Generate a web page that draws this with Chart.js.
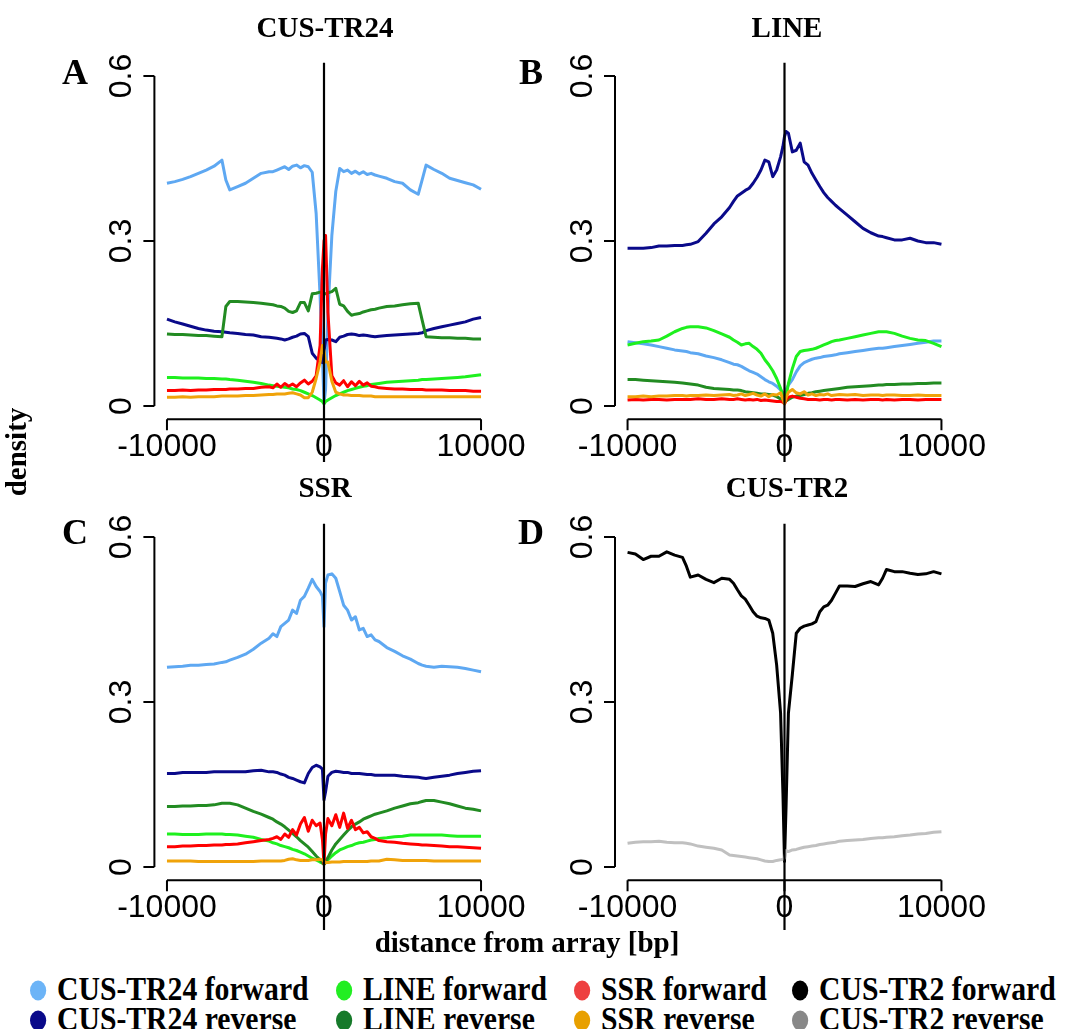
<!DOCTYPE html>
<html>
<head>
<meta charset="utf-8">
<title>density around arrays</title>
<script src="https://cdn.jsdelivr.net/npm/chart.js@4.4.1/dist/chart.umd.min.js"></script>
<style>
  html, body { margin: 0; padding: 0; background: #fff; }
  #fig { position: relative; width: 1067px; height: 1029px; overflow: hidden; background: #fff;
         font-family: "Liberation Serif", "Times New Roman", serif; font-weight: bold; color: #000; }
  #fig canvas { position: absolute; }
  .lbl { position: absolute; white-space: nowrap; transform: translate(-50%, -50%); line-height: 1; }
  .title { font-size: 29px; }
  .letter { font-size: 36px; }
  .axlab { font-size: 29px; }
  .legend-item { position: absolute; white-space: nowrap; font-size: 33px; line-height: 1;
                 transform-origin: 0 50%; transform: translateY(-50%) scaleX(0.9); }
  .dot { display: inline-block; width: 18px; height: 20px; border-radius: 50%; margin-right: 12px; vertical-align: -1px; }
</style>
</head>
<body>
<div id="fig">
  <canvas id="cA" width="533" height="462" style="left:0;top:0"></canvas>
  <canvas id="cB" width="534" height="462" style="left:533px;top:0"></canvas>
  <canvas id="cC" width="533" height="468" style="left:0;top:462px"></canvas>
  <canvas id="cD" width="534" height="468" style="left:533px;top:462px"></canvas>

  <div class="lbl title" style="left:325px;top:27px">CUS-TR24</div>
  <div class="lbl title" style="left:787px;top:27px">LINE</div>
  <div class="lbl title" style="left:325px;top:487px">SSR</div>
  <div class="lbl title" style="left:787px;top:487px">CUS-TR2</div>

  <div class="lbl letter" style="left:75px;top:72px">A</div>
  <div class="lbl letter" style="left:531px;top:72px">B</div>
  <div class="lbl letter" style="left:75px;top:532px">C</div>
  <div class="lbl letter" style="left:531px;top:532px">D</div>

  <div class="lbl axlab" style="left:16px;top:452px;transform:translate(-50%,-50%) rotate(-90deg)">density</div>
  <div class="lbl axlab" style="left:527px;top:942px">distance from array [bp]</div>
  <div id="legend"></div>
</div>

<script>
// distance from array (bp), shared by every series
const distances = [-10000,-9500,-9000,-8500,-8000,-7500,-7000,-6500,-6250,-6000,-5500,-5000,-4500,-4000,-3500,
  -3250,-3000,-2750,-2500,-2250,-2000,-1750,-1500,-1250,-1000,-750,-500,-250,-100,0,
  100,250,500,750,1000,1250,1500,1750,2000,2250,2500,2750,3000,3250,3500,
  4000,4500,5000,5500,6000,6250,6500,7000,7500,8000,8500,9000,9500,10000];

const xTicks = [-10000, 0, 10000];
const xTickLabels = ['-10000', '0', '10000'];
const yTicks = [0, 0.3, 0.6];
const yTickLabels = ['0', '0.3', '0.6'];

const seriesNames = ['CUS-TR24 forward', 'CUS-TR24 reverse', 'LINE forward', 'LINE reverse',
  'SSR forward', 'SSR reverse', 'CUS-TR2 forward', 'CUS-TR2 reverse'];
const lineColors = ['#5ea8f2', '#0a0a8a', '#1ef01e', '#228b22', '#ff0000', '#f0a30a', '#000000', '#c0c0c0'];
const legendColors = ['#6cb4f7', '#0a0a8a', '#22ee22', '#167a2a', '#ee4040', '#e8a000', '#000000', '#888888'];

// A: CUS-TR24
const aTr24Fwd = [0.405,0.408,0.412,0.417,0.423,0.429,0.436,0.447,0.411,0.393,
  0.399,0.405,0.414,0.423,0.426,0.426,0.429,0.432,0.435,0.430,
  0.436,0.438,0.433,0.437,0.435,0.425,0.350,0.200,0.090,0.005,
  0.030,0.170,0.310,0.390,0.432,0.426,0.429,0.423,0.427,0.422,
  0.426,0.421,0.423,0.420,0.418,0.414,0.408,0.405,0.393,0.385,
  0.411,0.438,0.430,0.423,0.414,0.410,0.406,0.402,0.394];
const aTr24Rev = [0.158,0.153,0.149,0.145,0.141,0.138,0.136,0.135,0.134,0.133,
  0.132,0.130,0.129,0.126,0.125,0.124,0.123,0.122,0.120,0.122,
  0.125,0.127,0.131,0.132,0.126,0.096,0.087,0.082,0.079,0.100,
  0.120,0.121,0.120,0.117,0.125,0.127,0.130,0.131,0.130,0.128,
  0.129,0.128,0.127,0.126,0.127,0.128,0.129,0.130,0.131,0.132,
  0.133,0.137,0.141,0.144,0.147,0.150,0.153,0.158,0.161];
const aLineFwd = [0.052,0.052,0.051,0.051,0.051,0.050,0.050,0.049,0.049,0.048,
  0.047,0.045,0.043,0.041,0.038,0.037,0.036,0.035,0.034,0.033,
  0.031,0.030,0.028,0.025,0.022,0.019,0.015,0.011,0.008,0.004,
  0.008,0.011,0.015,0.019,0.022,0.025,0.028,0.030,0.032,0.034,
  0.036,0.037,0.039,0.040,0.041,0.043,0.044,0.045,0.046,0.047,
  0.048,0.048,0.049,0.050,0.051,0.052,0.053,0.055,0.057];
const aLineRev = [0.131,0.130,0.130,0.129,0.128,0.128,0.127,0.126,0.181,0.190,
  0.190,0.189,0.188,0.187,0.185,0.184,0.182,0.181,0.178,0.172,
  0.170,0.173,0.188,0.188,0.173,0.204,0.205,0.207,0.206,0.204,
  0.204,0.206,0.208,0.214,0.185,0.182,0.172,0.165,0.167,0.168,
  0.171,0.173,0.175,0.176,0.178,0.181,0.182,0.184,0.186,0.187,
  0.156,0.126,0.125,0.124,0.124,0.123,0.123,0.122,0.122];
const aSsrFwd = [0.028,0.028,0.029,0.028,0.029,0.029,0.030,0.030,0.030,0.031,
  0.031,0.032,0.032,0.034,0.035,0.033,0.040,0.034,0.041,0.036,
  0.040,0.035,0.042,0.047,0.040,0.045,0.055,0.110,0.250,0.300,
  0.310,0.170,0.055,0.042,0.038,0.046,0.035,0.044,0.037,0.045,
  0.038,0.042,0.036,0.035,0.033,0.032,0.031,0.031,0.030,0.030,
  0.030,0.029,0.029,0.029,0.028,0.028,0.028,0.027,0.027];
const aSsrRev = [0.016,0.016,0.017,0.016,0.017,0.017,0.017,0.018,0.018,0.018,
  0.018,0.019,0.019,0.020,0.021,0.021,0.022,0.022,0.022,0.023,
  0.024,0.022,0.020,0.015,0.015,0.025,0.050,0.080,0.110,0.100,
  0.080,0.080,0.045,0.025,0.022,0.020,0.020,0.019,0.019,0.019,
  0.018,0.018,0.018,0.017,0.017,0.017,0.017,0.017,0.017,0.017,
  0.017,0.017,0.017,0.017,0.017,0.017,0.017,0.017,0.017];

// B: LINE
const bTr24Fwd = [0.117,0.115,0.113,0.111,0.108,0.105,0.102,0.100,0.099,0.097,
  0.095,0.091,0.088,0.084,0.079,0.076,0.075,0.072,0.068,0.064,
  0.061,0.058,0.053,0.048,0.044,0.041,0.036,0.029,0.024,0.020,
  0.030,0.038,0.048,0.062,0.073,0.079,0.082,0.085,0.087,0.088,
  0.090,0.091,0.092,0.093,0.095,0.097,0.099,0.101,0.103,0.105,
  0.105,0.106,0.108,0.110,0.112,0.114,0.116,0.118,0.118];
const bTr24Rev = [0.287,0.287,0.287,0.288,0.291,0.291,0.292,0.292,0.293,0.294,
  0.299,0.314,0.331,0.344,0.361,0.372,0.382,0.387,0.392,0.396,
  0.405,0.416,0.429,0.447,0.444,0.417,0.429,0.453,0.472,0.490,
  0.499,0.496,0.462,0.465,0.478,0.444,0.438,0.423,0.411,0.399,
  0.388,0.379,0.372,0.365,0.359,0.347,0.335,0.323,0.315,0.309,
  0.308,0.306,0.302,0.302,0.305,0.300,0.297,0.297,0.294];
const bLineFwd = [0.111,0.114,0.117,0.118,0.120,0.127,0.135,0.141,0.143,0.144,
  0.144,0.142,0.137,0.131,0.125,0.120,0.116,0.111,0.113,0.114,
  0.108,0.103,0.096,0.084,0.075,0.064,0.050,0.032,0.020,0.008,
  0.017,0.041,0.068,0.090,0.099,0.101,0.102,0.103,0.105,0.108,
  0.111,0.114,0.117,0.119,0.120,0.123,0.126,0.129,0.132,0.135,
  0.135,0.135,0.132,0.127,0.123,0.120,0.119,0.114,0.108];
const bLineRev = [0.048,0.048,0.047,0.046,0.045,0.044,0.043,0.042,0.041,0.040,
  0.038,0.034,0.032,0.031,0.030,0.029,0.029,0.028,0.026,0.025,
  0.024,0.023,0.022,0.022,0.021,0.020,0.017,0.013,0.010,0.006,
  0.009,0.012,0.016,0.018,0.019,0.021,0.023,0.024,0.026,0.027,
  0.028,0.029,0.030,0.031,0.032,0.034,0.035,0.036,0.037,0.038,
  0.038,0.039,0.039,0.040,0.040,0.041,0.041,0.042,0.042];
const bSsrFwd = [0.011,0.012,0.011,0.012,0.012,0.011,0.012,0.012,0.012,0.012,
  0.013,0.012,0.012,0.013,0.012,0.012,0.013,0.012,0.011,0.012,
  0.011,0.012,0.010,0.011,0.010,0.009,0.008,0.008,0.007,0.004,
  0.010,0.016,0.018,0.016,0.014,0.013,0.012,0.012,0.012,0.011,
  0.012,0.012,0.011,0.012,0.012,0.011,0.012,0.011,0.012,0.012,
  0.011,0.012,0.011,0.012,0.012,0.011,0.012,0.012,0.012];
const bSsrRev = [0.017,0.017,0.018,0.017,0.018,0.018,0.019,0.019,0.018,0.019,
  0.019,0.020,0.019,0.020,0.021,0.019,0.020,0.022,0.019,0.021,
  0.023,0.020,0.018,0.022,0.017,0.021,0.020,0.024,0.012,0.004,
  0.015,0.025,0.030,0.024,0.022,0.026,0.020,0.022,0.019,0.021,
  0.020,0.022,0.019,0.020,0.021,0.020,0.021,0.019,0.020,0.020,
  0.019,0.020,0.020,0.019,0.019,0.020,0.019,0.019,0.019];

// C: SSR
const cTr24Fwd = [0.363,0.364,0.365,0.367,0.367,0.368,0.369,0.372,0.373,0.376,
  0.381,0.387,0.396,0.407,0.416,0.424,0.419,0.437,0.443,0.449,
  0.467,0.461,0.485,0.492,0.507,0.523,0.510,0.501,0.492,0.437,
  0.516,0.531,0.533,0.525,0.501,0.476,0.467,0.449,0.455,0.431,
  0.434,0.419,0.422,0.413,0.410,0.399,0.392,0.384,0.378,0.370,
  0.367,0.365,0.363,0.365,0.364,0.363,0.361,0.358,0.355];
const cTr24Rev = [0.170,0.170,0.172,0.172,0.172,0.172,0.173,0.173,0.173,0.173,
  0.173,0.173,0.175,0.176,0.173,0.173,0.172,0.169,0.167,0.163,
  0.161,0.158,0.155,0.153,0.170,0.181,0.185,0.182,0.178,0.122,
  0.137,0.165,0.172,0.174,0.173,0.172,0.172,0.170,0.170,0.170,
  0.169,0.168,0.168,0.167,0.167,0.167,0.167,0.165,0.164,0.163,
  0.162,0.161,0.163,0.165,0.167,0.170,0.172,0.174,0.175];
const cLineFwd = [0.060,0.060,0.059,0.059,0.059,0.060,0.060,0.060,0.059,0.059,
  0.058,0.056,0.054,0.050,0.047,0.044,0.042,0.039,0.037,0.035,
  0.032,0.030,0.027,0.024,0.020,0.016,0.013,0.009,0.007,0.005,
  0.008,0.013,0.020,0.026,0.031,0.034,0.037,0.039,0.042,0.044,
  0.045,0.047,0.049,0.050,0.052,0.053,0.055,0.056,0.058,0.058,
  0.058,0.058,0.058,0.058,0.057,0.056,0.056,0.056,0.056];
const cLineRev = [0.110,0.110,0.111,0.111,0.112,0.112,0.113,0.116,0.116,0.116,
  0.113,0.107,0.101,0.096,0.090,0.087,0.082,0.078,0.073,0.067,
  0.061,0.055,0.048,0.042,0.036,0.028,0.020,0.013,0.008,0.005,
  0.010,0.017,0.031,0.042,0.050,0.058,0.066,0.073,0.078,0.082,
  0.087,0.090,0.093,0.096,0.098,0.102,0.107,0.111,0.115,0.117,
  0.119,0.121,0.121,0.118,0.115,0.111,0.107,0.105,0.102];
const cSsrFwd = [0.037,0.037,0.038,0.038,0.039,0.039,0.040,0.040,0.041,0.041,
  0.042,0.044,0.046,0.048,0.050,0.052,0.055,0.050,0.060,0.054,
  0.068,0.058,0.078,0.090,0.065,0.085,0.075,0.080,0.050,0.005,
  0.060,0.088,0.075,0.095,0.072,0.098,0.070,0.085,0.068,0.072,
  0.062,0.064,0.055,0.052,0.048,0.046,0.045,0.043,0.042,0.041,
  0.040,0.040,0.039,0.038,0.037,0.037,0.036,0.035,0.034];
const cSsrRev = [0.011,0.011,0.011,0.011,0.010,0.010,0.010,0.010,0.010,0.010,
  0.010,0.010,0.010,0.011,0.011,0.011,0.011,0.011,0.012,0.014,
  0.015,0.013,0.012,0.012,0.012,0.013,0.013,0.014,0.013,0.010,
  0.008,0.008,0.009,0.009,0.009,0.010,0.010,0.010,0.010,0.010,
  0.010,0.010,0.011,0.011,0.011,0.014,0.013,0.012,0.012,0.012,
  0.012,0.012,0.011,0.011,0.011,0.011,0.011,0.011,0.011];

// D: CUS-TR2
const dTr2Fwd = [0.572,0.569,0.559,0.565,0.565,0.573,0.567,0.563,0.547,0.527,
  0.531,0.523,0.517,0.525,0.523,0.516,0.504,0.493,0.487,0.476,
  0.464,0.456,0.453,0.452,0.449,0.425,0.367,0.280,0.134,0.010,
  0.110,0.280,0.350,0.425,0.434,0.438,0.440,0.442,0.446,0.464,
  0.473,0.476,0.485,0.498,0.511,0.511,0.510,0.515,0.519,0.513,
  0.525,0.541,0.537,0.537,0.534,0.532,0.533,0.537,0.533];
const dTr2Rev = [0.043,0.045,0.046,0.046,0.047,0.045,0.044,0.044,0.043,0.042,
  0.038,0.036,0.034,0.031,0.022,0.021,0.020,0.019,0.018,0.017,
  0.016,0.015,0.013,0.011,0.010,0.010,0.012,0.013,0.014,0.016,
  0.030,0.028,0.031,0.032,0.034,0.036,0.037,0.038,0.039,0.041,
  0.042,0.043,0.044,0.045,0.047,0.048,0.049,0.050,0.052,0.053,
  0.053,0.054,0.055,0.057,0.058,0.060,0.061,0.063,0.064];

// R-style axis range: 4% beyond the data range on each side
const xPad = (xTicks[2] - xTicks[0]) * 0.04;
const yPad = (yTicks[2] - yTicks[0]) * 0.04;

// detached R-like axes plus the vertical line at 0
const rAxes = {
  id: 'rAxes',
  beforeDatasetsDraw(chart) {
    const { ctx, chartArea: ca, scales: { x, y } } = chart;
    ctx.save();
    ctx.strokeStyle = '#000';
    ctx.fillStyle = '#000';
    ctx.lineWidth = 2;
    ctx.lineCap = 'butt';
    ctx.beginPath();
    ctx.moveTo(ca.left, y.getPixelForValue(yTicks[0]));
    ctx.lineTo(ca.left, y.getPixelForValue(yTicks[yTicks.length - 1]));
    yTicks.forEach(v => {
      const py = y.getPixelForValue(v);
      ctx.moveTo(ca.left, py);
      ctx.lineTo(ca.left - 11, py);
    });
    ctx.moveTo(x.getPixelForValue(xTicks[0]), ca.bottom);
    ctx.lineTo(x.getPixelForValue(xTicks[xTicks.length - 1]), ca.bottom);
    xTicks.forEach(v => {
      const px = x.getPixelForValue(v);
      ctx.moveTo(px, ca.bottom);
      ctx.lineTo(px, ca.bottom + 11);
    });
    ctx.stroke();

    ctx.font = '32px "Liberation Sans", Arial, sans-serif';
    ctx.textAlign = 'center';
    ctx.textBaseline = 'alphabetic';
    xTicks.forEach((v, i) => {
      ctx.fillText(xTickLabels[i], x.getPixelForValue(v), ca.bottom + 37);
    });
    yTicks.forEach((v, i) => {
      ctx.save();
      ctx.translate(ca.left - 23, y.getPixelForValue(v));
      ctx.rotate(-Math.PI / 2);
      ctx.fillText(yTickLabels[i], 0, 0);
      ctx.restore();
    });
    ctx.restore();
  },
  afterDatasetsDraw(chart) {
    const { ctx, chartArea: ca, scales: { x } } = chart;
    const px = x.getPixelForValue(0);
    ctx.save();
    ctx.strokeStyle = '#000';
    ctx.lineWidth = 2.2;
    ctx.beginPath();
    ctx.moveTo(px, ca.top);
    ctx.lineTo(px, chart.height);
    ctx.stroke();
    ctx.restore();
  }
};

function makePanel(id, padding, series) {
  return new Chart(document.getElementById(id), {
    type: 'line',
    data: {
      datasets: series.map((s, i) => ({
        label: seriesNames[s.k],
        data: distances.map((d, j) => ({ x: d, y: s.values[j] })),
        borderColor: lineColors[s.k],
        borderWidth: 3,
        borderJoinStyle: 'round',
        pointRadius: 0,
        fill: false,
        tension: 0,
        order: series.length - i
      }))
    },
    options: {
      responsive: false,
      animation: false,
      devicePixelRatio: 1,
      events: [],
      layout: { padding },
      scales: {
        x: { type: 'linear', min: xTicks[0] - xPad, max: xTicks[2] + xPad, display: false },
        y: { type: 'linear', min: yTicks[0] - yPad, max: yTicks[2] + yPad, display: false }
      },
      plugins: { legend: { display: false }, tooltip: { enabled: false } }
    },
    plugins: [rAxes]
  });
}

const topPad = { left: 154.4, right: 39.4, top: 62.8, bottom: 42.8 };
const topPadR = { left: 82, right: 113, top: 62.8, bottom: 42.8 };
const botPad = { left: 154.4, right: 39.4, top: 61.8, bottom: 49.8 };
const botPadR = { left: 82, right: 113, top: 61.8, bottom: 49.8 };

makePanel('cA', topPad, [
  { k: 0, values: aTr24Fwd }, { k: 1, values: aTr24Rev }, { k: 2, values: aLineFwd },
  { k: 3, values: aLineRev }, { k: 4, values: aSsrFwd }, { k: 5, values: aSsrRev }]);
makePanel('cB', topPadR, [
  { k: 0, values: bTr24Fwd }, { k: 1, values: bTr24Rev }, { k: 2, values: bLineFwd },
  { k: 3, values: bLineRev }, { k: 4, values: bSsrFwd }, { k: 5, values: bSsrRev }]);
makePanel('cC', botPad, [
  { k: 0, values: cTr24Fwd }, { k: 1, values: cTr24Rev }, { k: 2, values: cLineFwd },
  { k: 3, values: cLineRev }, { k: 4, values: cSsrFwd }, { k: 5, values: cSsrRev }]);
makePanel('cD', botPadR, [
  { k: 6, values: dTr2Fwd }, { k: 7, values: dTr2Rev }]);

// legend: four columns, forward on the first row, reverse on the second
const legendCols = [30, 336, 574, 792];
const legendRows = [989, 1019];
const legend = document.getElementById('legend');
seriesNames.forEach((name, i) => {
  const item = document.createElement('div');
  item.className = 'legend-item';
  item.style.left = legendCols[Math.floor(i / 2)] + 'px';
  item.style.top = legendRows[i % 2] + 'px';
  const dot = document.createElement('span');
  dot.className = 'dot';
  dot.style.background = legendColors[i];
  item.appendChild(dot);
  item.appendChild(document.createTextNode(name));
  legend.appendChild(item);
});
</script>
</body>
</html>
